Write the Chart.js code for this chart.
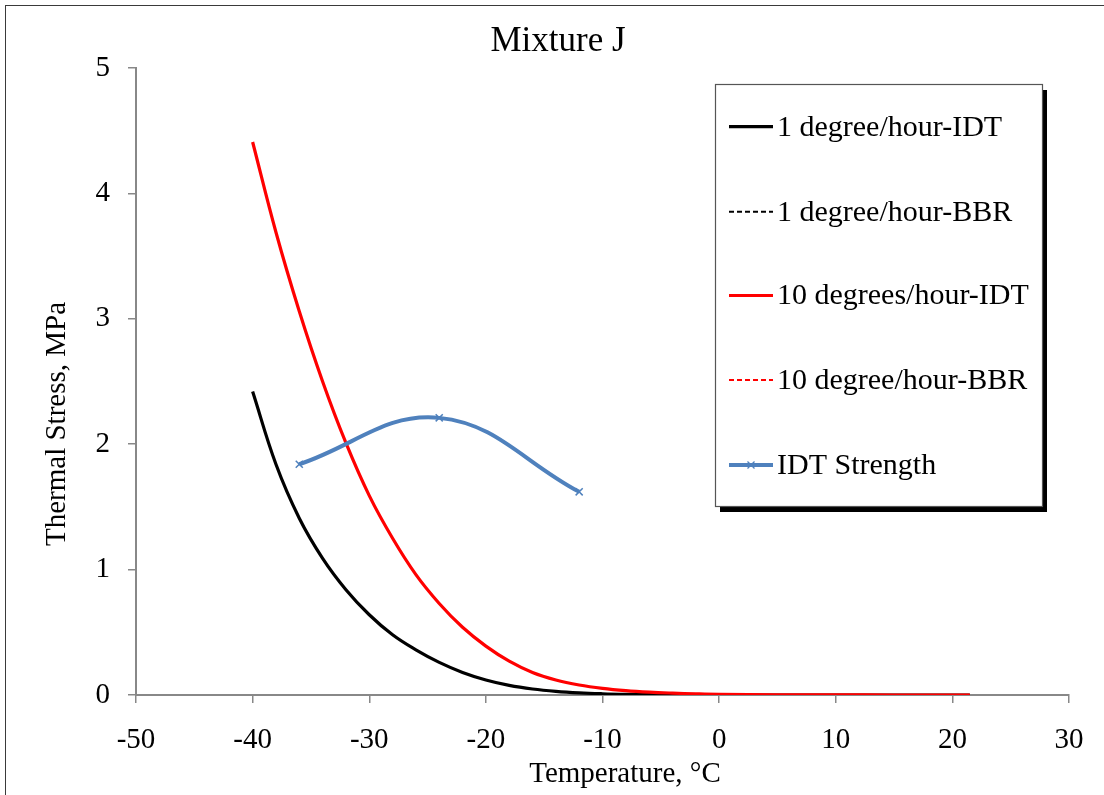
<!DOCTYPE html>
<html>
<head>
<meta charset="utf-8">
<script src="https://cdn.jsdelivr.net/npm/chart.js@4.4.1/dist/chart.umd.min.js"></script>
<style>
    html, body { margin: 0; padding: 0; background: #fff; overflow: hidden; }
    #wrap { position: relative; width: 1104px; height: 795px; overflow: hidden; }
    #frame { position: absolute; left: 5px; top: 5px; width: 1200px; height: 900px; border: 1.5px solid #3a3a3a; box-sizing: border-box; pointer-events: none; }
    canvas { position: absolute; left: 0; top: 0; }
</style>
</head>
<body>
<div id="wrap">
    <canvas id="chart" width="1104" height="795"></canvas>
    <div id="frame"></div>
</div>
<script>
// Temperatures (°C) at which the thermal stress curves were read
const stressTemps = [-40, -38, -36, -34, -32, -30, -28, -26, -24, -22, -20, -18, -16, -14, -12, -10, -8, -6, -4, -2, 0, 5, 10, 15, 21.5];

// Thermal stress (MPa), 1 degree/hour cooling, IDT
const oneDegIdt = [2.42, 1.84, 1.41, 1.09, 0.84, 0.64, 0.48, 0.36, 0.26, 0.18, 0.12, 0.077, 0.048, 0.029, 0.017, 0.010, 0.006, 0.004, 0.002, 0.001, 0, 0, 0, 0, 0];

// Thermal stress (MPa), 10 degrees/hour cooling, IDT
const tenDegIdt = [4.41, 3.69, 3.06, 2.50, 2.01, 1.59, 1.25, 0.96, 0.73, 0.54, 0.39, 0.27, 0.18, 0.12, 0.08, 0.053, 0.035, 0.023, 0.015, 0.009, 0.005, 0.002, 0.001, 0, 0];

// BBR series appear in the legend only (no visible marks)
const oneDegBbr = [];
const tenDegBbr = [];

// IDT strength (MPa)
const strengthTemps = [-36, -24, -12];
const strengthValues = [1.84, 2.21, 1.62];

// Axis ticks
const xTicks = [-50, -40, -30, -20, -10, 0, 10, 20, 30];
const yTicks = [0, 1, 2, 3, 4, 5];

const seriesLabels = ['1 degree/hour-IDT', '1 degree/hour-BBR', '10 degrees/hour-IDT', '10 degree/hour-BBR', 'IDT Strength'];

const serif = "'Liberation Serif', 'Times New Roman', serif";

function toPoints(xs, ys) {
    return ys.map((y, i) => ({ x: xs[i], y: y }));
}

// Title, axis titles, legend box with shadow
const decorPlugin = {
    id: 'decor',
    afterDraw(chart) {
        const ctx = chart.ctx;
        ctx.save();

        // title
        ctx.fillStyle = '#000';
        ctx.font = `35px ${serif}`;
        ctx.textAlign = 'center';
        ctx.textBaseline = 'alphabetic';
        ctx.fillText('Mixture J', 558, 51);

        // axis titles
        ctx.font = `29px ${serif}`;
        ctx.fillText('Temperature, °C', 625, 782);
        ctx.save();
        ctx.translate(65, 424);
        ctx.rotate(-Math.PI / 2);
        ctx.fillText('Thermal Stress, MPa', 0, 0);
        ctx.restore();

        // legend box
        const box = { x: 715, y: 84, w: 327, h: 422 };
        ctx.fillStyle = '#000';
        ctx.fillRect(box.x + 5, box.y + 6, box.w, box.h);
        ctx.fillStyle = '#fff';
        ctx.fillRect(box.x, box.y, box.w, box.h);
        ctx.strokeStyle = '#555';
        ctx.lineWidth = 1.2;
        ctx.strokeRect(box.x + 0.5, box.y + 0.5, box.w, box.h);

        const rows = [126.7, 211.7, 295.5, 380, 465];
        const datasets = chart.data.datasets;
        rows.forEach((yy, i) => {
            const ds = datasets[i];
            ctx.beginPath();
            ctx.setLineDash(ds.borderDash || []);
            ctx.strokeStyle = ds.borderColor;
            ctx.lineWidth = ds.borderDash ? 2 : ds.borderWidth;
            ctx.moveTo(729, yy);
            ctx.lineTo(773, yy);
            ctx.stroke();
            ctx.setLineDash([]);
            if (ds.pointStyle === 'crossRot') {
                ctx.beginPath();
                ctx.lineWidth = 1.3;
                const r = 3.5, cx = 751;
                ctx.moveTo(cx - r, yy - r); ctx.lineTo(cx + r, yy + r);
                ctx.moveTo(cx - r, yy + r); ctx.lineTo(cx + r, yy - r);
                ctx.stroke();
            }
            ctx.fillStyle = '#000';
            ctx.font = `30px ${serif}`;
            ctx.textAlign = 'left';
            ctx.textBaseline = 'middle';
            ctx.fillText(ds.label, 777, yy + 1);
        });

        ctx.restore();
    }
};

new Chart(document.getElementById('chart'), {
    type: 'line',
    data: {
        datasets: [
            {
                label: seriesLabels[0],
                data: toPoints(stressTemps, oneDegIdt),
                borderColor: '#000000',
                borderWidth: 3.2,
                pointRadius: 0,
                tension: 0.4,
                order: 4
            },
            {
                label: seriesLabels[1],
                data: oneDegBbr,
                borderColor: '#000000',
                borderWidth: 2,
                borderDash: [5, 3],
                pointRadius: 0,
                order: 3
            },
            {
                label: seriesLabels[2],
                data: toPoints(stressTemps, tenDegIdt),
                borderColor: '#ff0000',
                borderWidth: 3.2,
                pointRadius: 0,
                tension: 0.4,
                order: 2
            },
            {
                label: seriesLabels[3],
                data: tenDegBbr,
                borderColor: '#ff0000',
                borderWidth: 2,
                borderDash: [5, 3],
                pointRadius: 0,
                order: 1
            },
            {
                label: seriesLabels[4],
                data: toPoints(strengthTemps, strengthValues),
                borderColor: '#4f81bd',
                borderWidth: 4,
                tension: 0.4,
                pointStyle: 'crossRot',
                pointRadius: 5,
                pointBorderWidth: 1.5,
                pointBorderColor: '#4f81bd',
                pointBackgroundColor: '#4f81bd',
                order: 0
            }
        ]
    },
    options: {
        responsive: false,
        animation: false,
        layout: { padding: { top: 68, right: 35, left: 0, bottom: 0 } },
        plugins: {
            legend: { display: false },
            title: { display: false },
            tooltip: { enabled: false }
        },
        scales: {
            x: {
                type: 'linear',
                min: -50,
                max: 30,
                afterBuildTicks: scale => { scale.ticks = xTicks.map(v => ({ value: v })); },
                afterFit: scale => { scale.height = 100; },
                grid: { drawOnChartArea: false, drawTicks: true, tickLength: 8, color: '#888', lineWidth: 1.5 },
                border: { color: '#888', width: 2 },
                ticks: { color: '#000', font: { family: serif, size: 29 }, padding: 20, maxRotation: 0 }
            },
            y: {
                type: 'linear',
                min: 0,
                max: 5,
                afterBuildTicks: scale => { scale.ticks = yTicks.map(v => ({ value: v })); },
                afterFit: scale => { scale.width = 136; },
                grid: { drawOnChartArea: false, drawTicks: true, tickLength: 8, color: '#888', lineWidth: 1.5 },
                border: { color: '#888', width: 2 },
                ticks: { color: '#000', font: { family: serif, size: 29 }, padding: 18 }
            }
        }
    },
    plugins: [decorPlugin]
});
</script>
</body>
</html>
